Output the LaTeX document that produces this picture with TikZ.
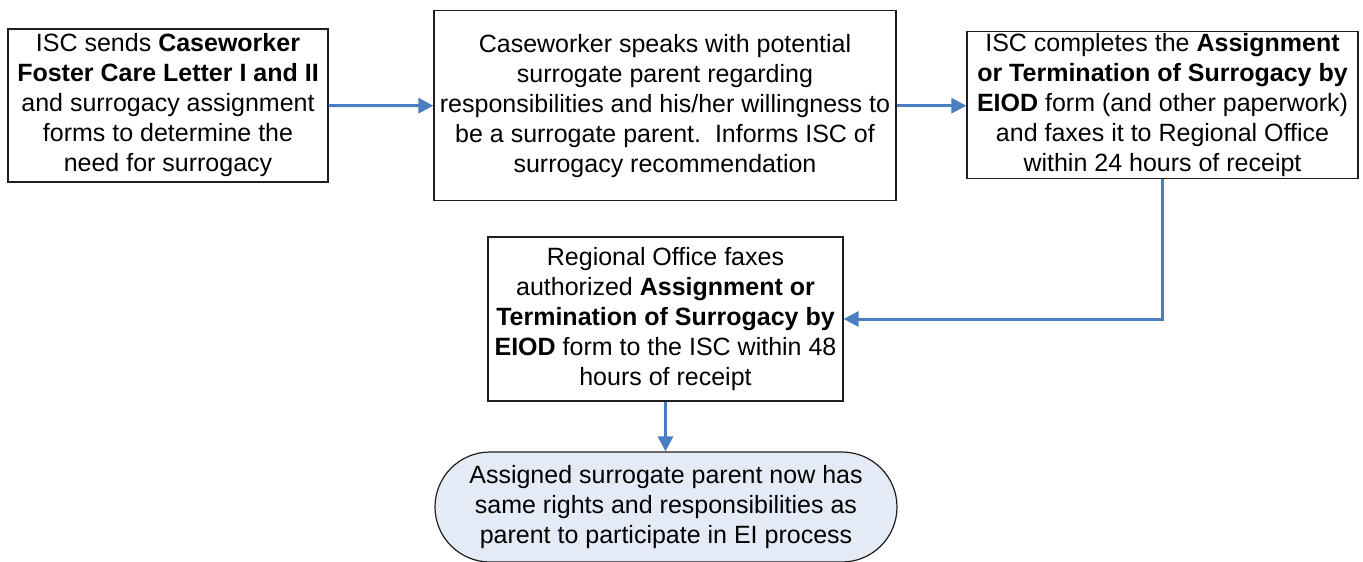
\documentclass[tikz,border=0pt]{standalone}
\usepackage{fontspec}
\setmainfont{Liberation Sans}
\usetikzlibrary{arrows.meta}
\definecolor{arrowblue}{RGB}{74,126,193}
\definecolor{termfill}{RGB}{228,235,246}
\definecolor{boxline}{RGB}{30,30,30}
\begin{document}
\begin{tikzpicture}[x=1pt,y=-1pt,
  box/.style={draw=boxline, line width=1.2pt, fill=white, inner sep=0pt, align=center,
    font=\fontsize{25}{30}\selectfont},
  term/.style={box, fill=termfill, rounded corners=55pt},
  flow/.style={draw=arrowblue, line width=3pt, -{Triangle[length=15pt,width=15pt]}}]
\useasboundingbox (0,0) rectangle (1363,562);
\clip (0,0) rectangle (1363,562);
\node[box, minimum width=320pt, minimum height=153pt] (b1) at (168,105.5)
  {ISC sends \textbf{Caseworker}\\\textbf{Foster Care Letter I and II}\\and surrogacy assignment\\forms to determine the\\need for surrogacy};
\node[box, minimum width=462pt, minimum height=190pt] (b2) at (665,105.7)
  {Caseworker speaks with potential\\surrogate parent regarding\\responsibilities and his/her willingness to\\be a surrogate parent.\ \ Informs ISC of\\surrogacy recommendation};
\node[box, minimum width=391pt, minimum height=147pt] (b3) at (1162.5,105.3)
  {ISC completes the \textbf{Assignment}\\\textbf{or Termination of Surrogacy by}\\\textbf{EIOD} form (and other paperwork)\\and faxes it to Regional Office\\within 24 hours of receipt};
\node[box, minimum width=355pt, minimum height=164pt] (b4) at (665.5,319)
  {Regional Office faxes\\authorized \textbf{Assignment or}\\\textbf{Termination of Surrogacy by}\\\textbf{EIOD} form to the ISC within 48\\hours of receipt};
\node[term, minimum width=462pt, minimum height=110pt] (t) at (666,507)
  {Assigned surrogate parent now has\\same rights and responsibilities as\\parent to participate in EI process};
\draw[flow] (b1.east) -- (b2.west);
\draw[flow] (b2.east) -- (b2.east -| b3.west);
\draw[flow] (b3.south) |- (b4.east);
\draw[flow] (b4.south) -- (b4.south |- t.north);
\end{tikzpicture}
\end{document}
